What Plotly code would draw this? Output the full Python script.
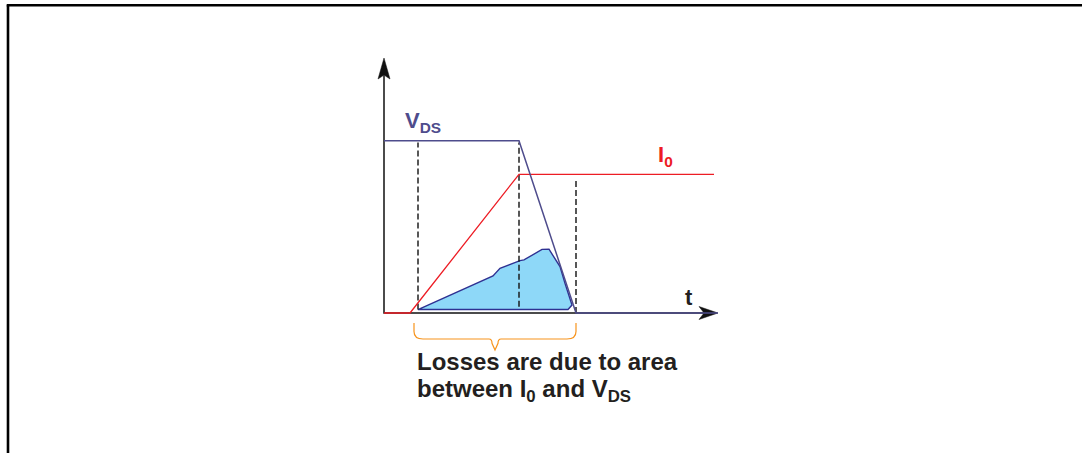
import plotly.graph_objects as go

# ---- data (time in arbitrary units, levels normalised to V_DS = 1) ----
VDS_T = [0.0, 1.35, 1.92, 3.34]
VDS_V = [1.0, 1.0, 0.0, 0.0]
I0_T = [0.0, 0.26, 1.35, 3.30]
I0_I = [0.0, 0.0, 0.805, 0.805]
LOSS_T = [0.34, 1.09, 1.16, 1.26, 1.36, 1.40, 1.51, 1.58, 1.65, 1.76, 1.81, 1.88, 1.84, 0.34]
LOSS_P = [0.02, 0.215, 0.259, 0.283, 0.304, 0.308, 0.347, 0.369, 0.370, 0.269, 0.172, 0.046, 0.02, 0.02]
MARK_T = [0.34, 1.35, 1.92]
MARK_TOP = [0.99, 0.99, 0.768]
MARK_BOTTOM = [0.02, 0.036, 0.0]
AXIS_T_END = 3.34
AXIS_Y_END = 1.48
BRACE_T = [0.30, 1.92]

FONT = "Liberation Sans, Arial, Helvetica, sans-serif"
PURPLE = "#4e4c8c"
RED = "#ed1c24"
DARK = "#231f20"
ORANGE = "#f7941d"
NAVY = "#2e3192"
FILL = "#8ed8f8"

fig = go.Figure()

# loss area
fig.add_trace(go.Scatter(x=LOSS_T, y=LOSS_P, mode="lines", fill="toself",
                         fillcolor=FILL, line=dict(color=NAVY, width=1.4),
                         hoverinfo="skip", showlegend=False))

# dashed markers
for t, top, bot in zip(MARK_T, MARK_TOP, MARK_BOTTOM):
    fig.add_trace(go.Scatter(x=[t, t], y=[bot, top], mode="lines",
                             line=dict(color="#111111", width=1.4, dash="6px,3px"),
                             hoverinfo="skip", showlegend=False))

# axes
fig.add_trace(go.Scatter(x=[0, 0, AXIS_T_END - 0.1], y=[AXIS_Y_END - 0.1, 0, 0], mode="lines",
                         line=dict(color="#111111", width=1.5),
                         hoverinfo="skip", showlegend=False))
# arrowheads
ah_x = [AXIS_T_END, AXIS_T_END - 0.19, AXIS_T_END - 0.14, AXIS_T_END - 0.19, AXIS_T_END]
ah_y = [0, 0.0377, 0, -0.0377, 0]
fig.add_trace(go.Scatter(x=ah_x, y=ah_y, mode="lines", fill="toself", fillcolor="#111111",
                         line=dict(color="#111111", width=0.5), hoverinfo="skip", showlegend=False))
av_x = [0, 0.06, 0, -0.06, 0]
av_y = [AXIS_Y_END, AXIS_Y_END - 0.122, AXIS_Y_END - 0.099, AXIS_Y_END - 0.122, AXIS_Y_END]
fig.add_trace(go.Scatter(x=av_x, y=av_y, mode="lines", fill="toself", fillcolor="#111111",
                         line=dict(color="#111111", width=0.5), hoverinfo="skip", showlegend=False))

# I0 and VDS
fig.add_trace(go.Scatter(x=I0_T, y=I0_I, mode="lines", line=dict(color=RED, width=1.3),
                         hoverinfo="skip", showlegend=False))
fig.add_trace(go.Scatter(x=VDS_T, y=VDS_V, mode="lines", line=dict(color=PURPLE, width=1.5),
                         hoverinfo="skip", showlegend=False))

# brace
b0, b1 = BRACE_T
bc = (b0 + b1) / 2
yt, yh, yp = -0.058, -0.151, -0.215
path = (f"M {b0},{yt} L {b0},{yt-0.05} Q {b0},{yh} {b0+0.09},{yh} "
        f"L {bc-0.06},{yh} Q {bc-0.03},{yh} {bc-0.03},{yh-0.025} L {bc},{yp} "
        f"L {bc+0.03},{yh-0.025} Q {bc+0.03},{yh} {bc+0.06},{yh} "
        f"L {b1-0.09},{yh} Q {b1},{yh} {b1},{yt-0.05} L {b1},{yt}")
shapes = [
    dict(type="path", path=path, xref="x", yref="y", line=dict(color=ORANGE, width=1.2)),
    dict(type="line", xref="paper", yref="paper", x0=8 / 1082, x1=8 / 1082, y0=0, y1=1 - 5.3 / 453,
         line=dict(color="black", width=2.6)),
    dict(type="line", xref="paper", yref="paper", x0=8 / 1082 - 0.0012, x1=1.01, y0=1 - 5.3 / 453, y1=1 - 5.3 / 453,
         line=dict(color="black", width=2.6)),
]

annotations = [
    dict(x=0.19, y=1.11, xref="x", yref="y", text="<b>V<sub>DS</sub></b>", showarrow=False,
         xanchor="left", yanchor="middle", font=dict(family=FONT, size=22, color=PURPLE)),
    dict(x=2.72, y=0.91, xref="x", yref="y", text="<b>I<sub>0</sub></b>", showarrow=False,
         xanchor="left", yanchor="middle", font=dict(family=FONT, size=22, color=RED)),
    dict(x=2.99, y=0.09, xref="x", yref="y", text="<b>t</b>", showarrow=False,
         xanchor="left", yanchor="middle", font=dict(family=FONT, size=22, color=DARK)),
    dict(x=0.31, y=-0.279, xref="x", yref="y", text="<b>Losses are due to area</b>", showarrow=False,
         xanchor="left", yanchor="middle", font=dict(family=FONT, size=24, color=DARK)),
    dict(x=0.31, y=-0.449, xref="x", yref="y", text="<b>between I<sub>0</sub> and V<sub>DS</sub></b>",
         showarrow=False, xanchor="left", yanchor="middle", font=dict(family=FONT, size=24, color=DARK)),
]

fig.update_layout(
    width=1082, height=453, margin=dict(l=0, r=0, t=0, b=0),
    paper_bgcolor="white", plot_bgcolor="white",
    xaxis=dict(range=[-3.84, 6.98], visible=False, fixedrange=True),
    yaxis=dict(range=[-0.8125, 1.8166], visible=False, fixedrange=True),
    shapes=shapes, annotations=annotations, showlegend=False,
)

fig.write_html("out.html", config={"displayModeBar": False},
               post_script="document.body.style.margin='0';document.body.style.overflow='hidden';")
